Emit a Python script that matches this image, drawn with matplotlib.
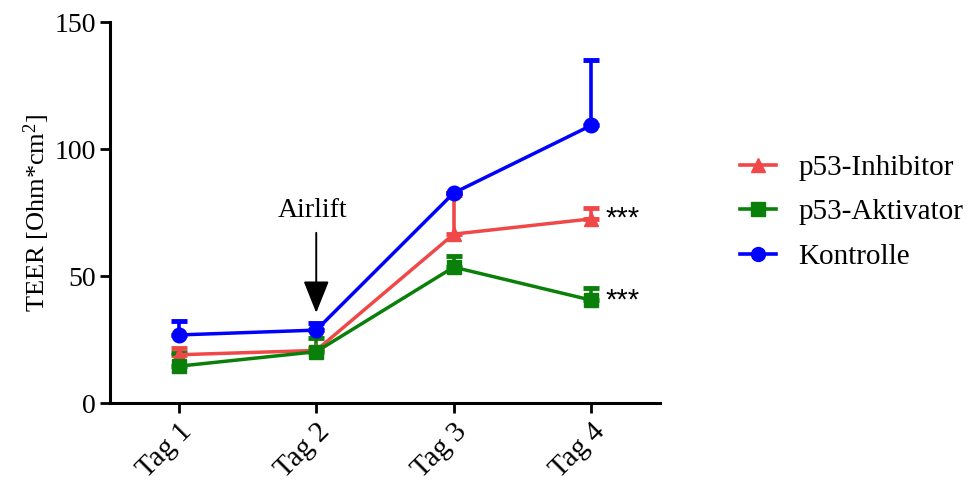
import matplotlib
matplotlib.use("Agg")
import matplotlib.pyplot as plt
from matplotlib.lines import Line2D

plt.rcParams['font.family'] = ['Liberation Serif', 'DejaVu Serif']
plt.rcParams['mathtext.fontset'] = 'custom'
plt.rcParams['mathtext.rm'] = 'Liberation Serif'
plt.rcParams['mathtext.it'] = 'Liberation Serif:italic'

days = ["Tag 1", "Tag 2", "Tag 3", "Tag 4"]
inhibitor = [19.0, 20.7, 66.5, 72.5]
inhibitor_err = [2.5, 0.8, 15.5, 4.3]
aktivator = [14.5, 20.2, 53.5, 40.5]
aktivator_err = [5.0, 5.4, 4.3, 4.8]
kontrolle = [26.8, 28.7, 82.7, 109.3]
kontrolle_err = [5.6, 2.9, 0.0, 25.7]
labels = ["p53-Inhibitor", "p53-Aktivator", "Kontrolle"]
signif = ["***", "***"]

fig = plt.figure(figsize=(9.76, 4.83), dpi=100)
ax = fig.add_axes([0.1127, 0.1656, 0.5635, 0.7888])

x = list(range(len(days)))
series = [
    (inhibitor, inhibitor_err, '#F04848', '^', labels[0]),
    (aktivator, aktivator_err, '#0A800A', 's', labels[1]),
    (kontrolle, kontrolle_err, '#0000FF', 'o', labels[2]),
]
handles = []
for vals, err, col, mk, lab in series:
    ax.errorbar(x, vals, yerr=[[0]*len(err), err], color=col, marker=mk,
                markersize=10.5, linewidth=2.5, elinewidth=2.6, capsize=5.5,
                capthick=3.5)
    handles.append(Line2D([], [], color=col, marker=mk, markersize=10,
                          linewidth=2.6))

ax.set_xlim(-0.5, 3.5)
ax.set_ylim(0, 150)
ax.set_yticks([0, 50, 100, 150])
ax.set_xticks(x)
ax.set_xticklabels(days, rotation=45, ha='right', rotation_mode='anchor')
ax.tick_params(axis='both', direction='out', length=7, width=2, labelsize=20)
ax.tick_params(axis='x', pad=4, labelsize=21)
ax.tick_params(axis='y', pad=3)
for s in ['top', 'right']:
    ax.spines[s].set_visible(False)
for s in ['left', 'bottom']:
    ax.spines[s].set_linewidth(2.2)
ax.set_ylabel('TEER [Ohm*cm$^{2}$]', fontsize=19, labelpad=2)

ax.text(0.97, 71, 'Airlift', ha='center', va='bottom', fontsize=20)
ax.annotate('', xy=(1, 35.5), xytext=(1, 67),
            arrowprops=dict(arrowstyle='-|>,head_width=0.8,head_length=2.0',
                            color='black', lw=1.4, shrinkA=0, shrinkB=0))

ax.text(3.1, inhibitor[3], signif[0], fontsize=21, va='center', ha='left',
        family='Liberation Sans')
ax.text(3.1, aktivator[3], signif[1], fontsize=21, va='center', ha='left',
        family='Liberation Sans')

leg = fig.legend(handles=handles, labels=labels, loc='upper left',
                 bbox_to_anchor=(0.758, 0.68), frameon=False, fontsize=21,
                 handlelength=1.25, labelspacing=0.62, handletextpad=0.75,
                 borderaxespad=0, borderpad=0)

fig.savefig('out.png', dpi=100)
